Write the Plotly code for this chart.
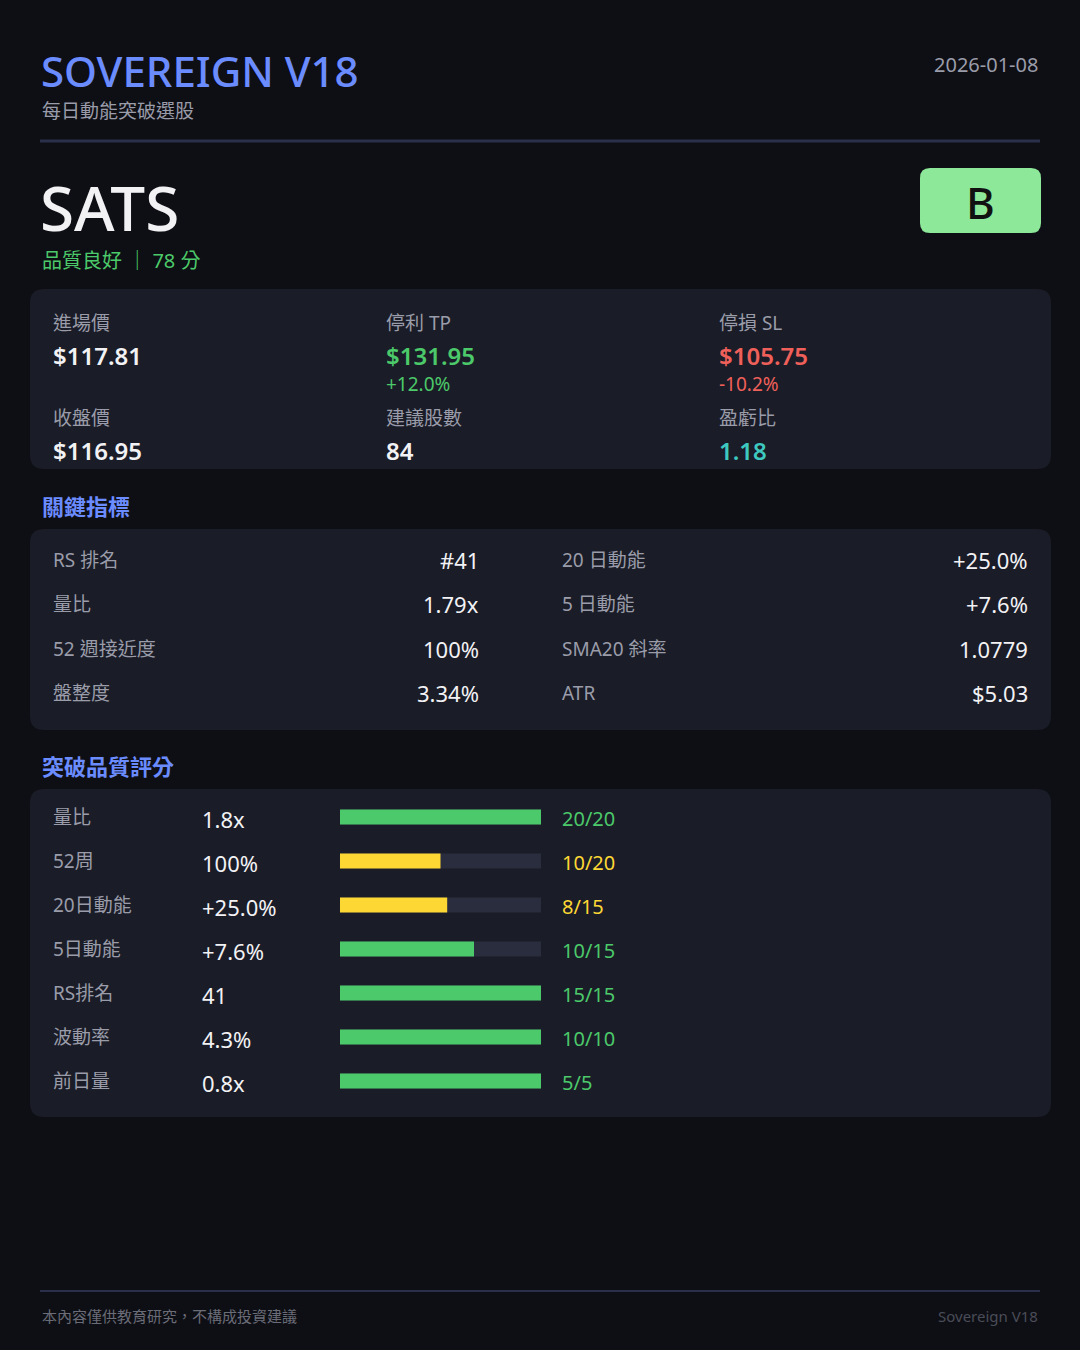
import plotly.graph_objects as go

W, H = 1080, 1350
BG = "#0e0f14"; CARD = "#1a1c27"; BLUE = "#6b8cff"; GREY = "#9a9caa"; WHITE = "#f2f2f5"
GREEN = "#4cc96a"; YEL = "#fdd835"; RED = "#f0605a"; TEAL = "#3ec9c0"
F = "Noto Sans, Noto Sans CJK TC, sans-serif"

title = "SOVEREIGN V18"; subtitle = "每日動能突破選股"; date = "2026-01-08"
ticker = "SATS"; grade = "B"; quality = "品質良好 ｜ 78 分"

price_labels = ["進場價", "停利 TP", "停損 SL", "收盤價", "建議股數", "盈虧比"]
price_values = ["$117.81", "$131.95", "$105.75", "$116.95", "84", "1.18"]
price_sub = ["", "+12.0%", "-10.2%", "", "", ""]

ind_left_l = ["RS 排名", "量比", "52 週接近度", "盤整度"]
ind_left_v = ["#41", "1.79x", "100%", "3.34%"]
ind_right_l = ["20 日動能", "5 日動能", "SMA20 斜率", "ATR"]
ind_right_v = ["+25.0%", "+7.6%", "1.0779", "$5.03"]

score_names = ["量比", "52周", "20日動能", "5日動能", "RS排名", "波動率", "前日量"]
score_vals = ["1.8x", "100%", "+25.0%", "+7.6%", "41", "4.3%", "0.8x"]
score_pts = [20, 10, 8, 10, 15, 10, 5]
score_max = [20, 20, 15, 15, 15, 10, 5]

fig = go.Figure()
shapes = []; ann = []

def txt(x, y, s, size, color, anchor="left", weight=None, ya="middle"):
    ann.append(dict(x=x, y=y, xref="x", yref="y", text=s, showarrow=False, xanchor=anchor, yanchor=ya,
                    font=dict(family=F, size=size, color=color, weight=weight)))

def rrect(x0, y0, x1, y1, r, color):
    path = (f"M {x0+r} {y0} L {x1-r} {y0} Q {x1} {y0} {x1} {y0+r} L {x1} {y1-r} Q {x1} {y1} {x1-r} {y1} "
            f"L {x0+r} {y1} Q {x0} {y1} {x0} {y1-r} L {x0} {y0+r} Q {x0} {y0} {x0+r} {y0} Z")
    shapes.append(dict(type="path", xref="x", yref="y", path=path, fillcolor=color, line=dict(width=0), layer="below"))

# header
txt(39, 70, title, 42, BLUE, weight=500)
txt(40, 111, subtitle, 19, GREY)
txt(1040, 64, date, 20, GREY, anchor="right")
shapes.append(dict(type="line", xref="x", yref="y", x0=40, x1=1040, y0=141, y1=141, line=dict(color="#2a2f4a", width=3)))

txt(38, 207, ticker, 62, WHITE, weight=500)
txt(40, 260, quality, 20, GREEN)
rrect(920, 168, 1041, 233, 10, "#8de89a")
txt(980, 202, grade, 44, "#111111", anchor="center", weight=500)

# price card
rrect(30, 289, 1051, 469, 14, CARD)
xs = [51, 384, 717]
colors = [WHITE, GREEN, RED, WHITE, WHITE, TEAL]
subc = [None, GREEN, RED]
for i in range(6):
    x = xs[i % 3]; base = 323 if i < 3 else 418
    txt(x, base, price_labels[i], 19, GREY)
    txt(x, base + 32, price_values[i], 24, colors[i], weight=600)
    if price_sub[i]:
        txt(x, base + 61, price_sub[i], 19, subc[i])

# indicators
txt(40, 506, "關鍵指標", 22, BLUE, weight=600)
rrect(30, 529, 1051, 730, 14, CARD)
for i in range(4):
    y = 560 + i * 44.3
    txt(51, y, ind_left_l[i], 19, GREY)
    txt(481, y, ind_left_v[i], 22, WHITE, anchor="right")
    txt(560, y, ind_right_l[i], 19, GREY)
    txt(1030, y, ind_right_v[i], 22, WHITE, anchor="right")

# scores
txt(40, 766, "突破品質評分", 22, BLUE, weight=600)
rrect(30, 789, 1051, 1117, 14, CARD)
ys = [817 + i * 44 for i in range(len(score_names))]
ratios = [p / m for p, m in zip(score_pts, score_max)]
cols = [GREEN if r >= 0.6 else YEL for r in ratios]
fig.add_trace(go.Bar(y=ys, x=[201] * len(ys), base=340, orientation="h", width=15,
                     marker=dict(color="#2a2d3d", line=dict(width=0)), hoverinfo="skip"))
fig.add_trace(go.Bar(y=ys, x=[201 * r for r in ratios], base=340, orientation="h", width=15,
                     marker=dict(color=cols, line=dict(width=0)), hoverinfo="skip"))
for i, y in enumerate(ys):
    txt(51, y, score_names[i], 19, GREY)
    txt(200, y + 2, score_vals[i], 22, WHITE)
    txt(560, y + 1, f"{score_pts[i]}/{score_max[i]}", 20, cols[i])

# footer
shapes.append(dict(type="line", xref="x", yref="y", x0=40, x1=1040, y0=1291, y1=1291, line=dict(color="#2a2f4a", width=2)))
txt(40, 1316, "本內容僅供教育研究，不構成投資建議", 15, "#6a6c78")
txt(1040, 1316, "Sovereign V18", 15, "#4a4c58", anchor="right")

fig.update_layout(width=W, height=H, margin=dict(l=0, r=0, t=0, b=0), paper_bgcolor=BG, plot_bgcolor=BG,
                  showlegend=False, barmode="overlay", shapes=shapes, annotations=ann,
                  xaxis=dict(range=[0, W], visible=False, fixedrange=True),
                  yaxis=dict(range=[H, 0], visible=False, fixedrange=True))
fig.write_html("out.html", config={"displayModeBar": False},
               post_script="document.body.style.margin='0';document.body.style.background='#0e0f14';")
